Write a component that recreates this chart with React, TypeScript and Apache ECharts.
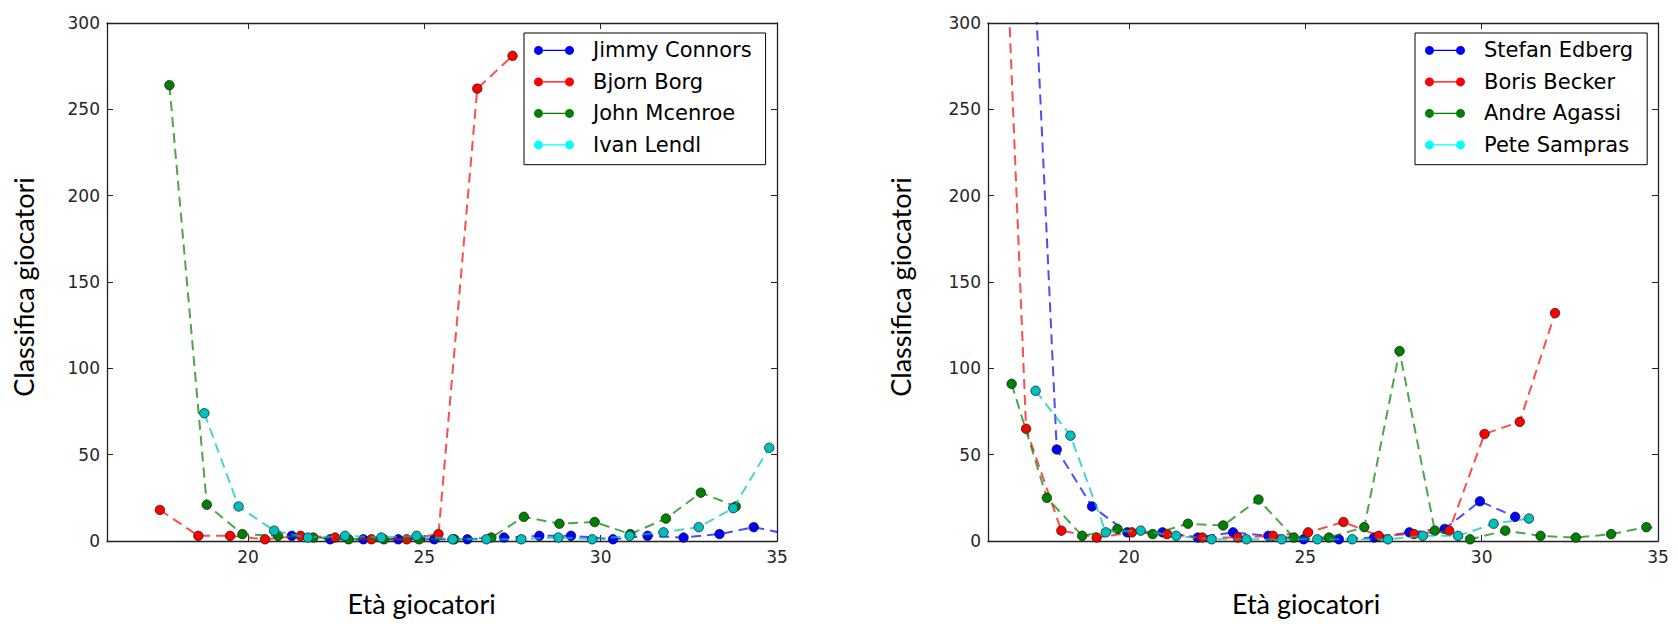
import React, { useEffect, useRef } from "react";
import * as echarts from "echarts";

// ---------- Data (age in years, year-end ranking) ----------
const connorsAge = [21.24, 22.33, 23.27, 24.26, 25.28, 26.22, 27.26, 28.26, 29.16, 30.35, 31.33, 32.35, 33.37, 34.34, 35.3];
const connorsRank = [3, 1, 1, 1, 1, 1, 2, 3, 3, 1, 3, 2, 4, 8, 4];

const borgAge = [17.5, 18.59, 19.49, 20.48, 21.49, 22.47, 23.5, 24.5, 25.4, 26.5, 27.5];
const borgRank = [18, 3, 3, 1, 3, 2, 1, 1, 4, 262, 281];

const mcenroeAge = [17.77, 18.83, 19.84, 20.85, 21.85, 22.85, 23.85, 24.85, 25.85, 26.9, 27.82, 28.83, 29.83, 30.84, 31.85, 32.84, 33.83];
const mcenroeRank = [264, 21, 4, 3, 2, 1, 1, 1, 1, 2, 14, 10, 11, 4, 13, 28, 20];

const lendlAge = [18.76, 19.73, 20.74, 21.7, 22.75, 23.78, 24.78, 25.8, 26.76, 27.75, 28.8, 29.76, 30.82, 31.78, 32.78, 33.76, 34.78];
const lendlRank = [74, 20, 6, 2, 3, 2, 3, 1, 1, 1, 2, 1, 3, 5, 8, 19, 54];

const edbergAge = [16.95, 17.95, 18.95, 19.95, 20.95, 21.95, 22.95, 23.95, 24.95, 25.95, 26.95, 27.95, 28.95, 29.95, 30.95];
const edbergRank = [490, 53, 20, 5, 5, 2, 5, 3, 1, 1, 2, 5, 7, 23, 14];

const beckerAge = [16.08, 17.08, 18.08, 19.08, 20.08, 21.08, 22.08, 23.08, 24.08, 25.08, 26.08, 27.08, 28.08, 29.08, 30.08, 31.08, 32.08];
const beckerRank = [566, 65, 6, 2, 5, 4, 2, 2, 3, 5, 11, 3, 4, 6, 62, 69, 132];

const agassiAge = [16.67, 17.67, 18.67, 19.67, 20.67, 21.67, 22.67, 23.67, 24.67, 25.67, 26.67, 27.67, 28.67, 29.67, 30.67, 31.67, 32.67, 33.67, 34.67, 35.67];
const agassiRank = [91, 25, 3, 7, 4, 10, 9, 24, 2, 2, 8, 110, 6, 1, 6, 3, 2, 4, 8, 7];

const samprasAge = [17.35, 18.34, 19.34, 20.33, 21.34, 22.34, 23.33, 24.33, 25.34, 26.33, 27.34, 28.33, 29.33, 30.34, 31.34];
const samprasRank = [87, 61, 5, 6, 3, 1, 1, 1, 1, 1, 1, 3, 3, 10, 13];

const xTicks = [20, 25, 30, 35];
const xMin = 16;
const xMax = 35;
const yMin = 0;
const yMax = 300;
const yStep = 50;

const xTitle = "Età giocatori";
const yTitle = "Classifica giocatori";

// ---------- Styling ----------
const TICK_FONT = "DejaVu Sans";
const TITLE_FONT = "Lato";
const AXIS_COLOR = "#222";

const legendIcon =
  "path://M0,5a4.5,4.5 0 1,0 9,0a4.5,4.5 0 1,0 -9,0z M31,5a4.5,4.5 0 1,0 9,0a4.5,4.5 0 1,0 -9,0z M9,4.3h22v1.4h-22z";

type S = { name: string; ages: number[]; ranks: number[]; color: string; legendColor: string };

const leftSeries: S[] = [
  { name: "Jimmy Connors", ages: connorsAge, ranks: connorsRank, color: "#0000ff", legendColor: "#0000ff" },
  { name: "Bjorn Borg", ages: borgAge, ranks: borgRank, color: "#ff0000", legendColor: "#ff0000" },
  { name: "John Mcenroe", ages: mcenroeAge, ranks: mcenroeRank, color: "#008000", legendColor: "#008000" },
  { name: "Ivan Lendl", ages: lendlAge, ranks: lendlRank, color: "#00bfbf", legendColor: "#00ffff" },
];
const rightSeries: S[] = [
  { name: "Stefan Edberg", ages: edbergAge, ranks: edbergRank, color: "#0000ff", legendColor: "#0000ff" },
  { name: "Boris Becker", ages: beckerAge, ranks: beckerRank, color: "#ff0000", legendColor: "#ff0000" },
  { name: "Andre Agassi", ages: agassiAge, ranks: agassiRank, color: "#008000", legendColor: "#008000" },
  { name: "Pete Sampras", ages: samprasAge, ranks: samprasRank, color: "#00bfbf", legendColor: "#00ffff" },
];

function buildSeries(list: S[], idx: number) {
  return list.map((s, i) => ({
    name: s.name,
    type: "line",
    xAxisIndex: idx,
    yAxisIndex: idx,
    data: s.ages.map((a, k) => [a, s.ranks[k]]),
    symbol: "circle",
    symbolSize: 9.5,
    showSymbol: true,
    clip: true,
    z: 2 + i,
    lineStyle: { color: s.color, width: 2, type: [10, 6], opacity: 0.7 },
    itemStyle: { color: s.color, borderColor: "#111", borderWidth: 0.7 },
    emphasis: { disabled: true },
  }));
}

function buildLegend(list: S[], left: number) {
  return {
    orient: "vertical",
    left,
    top: 33,
    padding: [6.4, 14, 8.8, 10],
    backgroundColor: "#fff",
    borderColor: "#000",
    borderWidth: 1,
    borderRadius: 0,
    itemWidth: 40,
    itemHeight: 9,
    itemGap: 9.5,
    selectedMode: false,
    icon: legendIcon,
    itemStyle: { borderWidth: 0 },
    textStyle: {
      fontFamily: TICK_FONT,
      fontSize: 21,
      color: "#000",
      lineHeight: 22,
      padding: [0, 0, 0, 14],
    },
    data: list.map((s) => ({ name: s.name, icon: legendIcon, itemStyle: { color: s.legendColor, borderWidth: 0 } })),
  };
}

function xAxisFor(gridIndex: number, position: string, labels: boolean) {
  return {
    type: "value",
    gridIndex,
    position,
    min: xMin,
    max: xMax,
    axisLine: { show: true, onZero: false, lineStyle: { color: AXIS_COLOR, width: 1.3 } },
    axisTick: { show: true, inside: true, length: 6, customValues: xTicks, lineStyle: { color: AXIS_COLOR, width: 1 } },
    axisLabel: {
      show: labels,
      customValues: xTicks,
      margin: 7,
      fontFamily: TICK_FONT,
      fontSize: 17,
      color: "#262626",
    },
    splitLine: { show: false },
  };
}

function yAxisFor(gridIndex: number, position: string, labels: boolean) {
  return {
    type: "value",
    gridIndex,
    position,
    min: yMin,
    max: yMax,
    interval: yStep,
    axisLine: { show: true, onZero: false, lineStyle: { color: AXIS_COLOR, width: 1.3 } },
    axisTick: { show: true, inside: true, length: 6, lineStyle: { color: AXIS_COLOR, width: 1 } },
    axisLabel: {
      show: labels,
      margin: 7,
      fontFamily: TICK_FONT,
      fontSize: 17,
      color: "#262626",
    },
    splitLine: { show: false },
  };
}

function titleText(text: string, x: number, y: number, rotation = 0) {
  return {
    type: "text",
    x,
    y,
    rotation,
    silent: true,
    style: {
      text,
      fontFamily: TITLE_FONT,
      fontSize: 27,
      fill: "#000",
      align: "center",
      verticalAlign: "middle",
    },
  };
}

export default function App() {
  const ref = useRef<HTMLDivElement>(null);

  useEffect(() => {
    if (!ref.current) return;
    const chart = echarts.init(ref.current, null, { renderer: "svg" });
    const option: any = {
      animation: false,
      backgroundColor: "#fff",
      grid: [
        { left: 107, top: 23, width: 670, height: 518, containLabel: false },
        { left: 988, top: 23, width: 670, height: 518, containLabel: false },
      ],
      xAxis: [
        xAxisFor(0, "bottom", true),
        xAxisFor(1, "bottom", true),
        xAxisFor(0, "top", false),
        xAxisFor(1, "top", false),
      ],
      yAxis: [
        yAxisFor(0, "left", true),
        yAxisFor(1, "left", true),
        yAxisFor(0, "right", false),
        yAxisFor(1, "right", false),
      ],
      legend: [buildLegend(leftSeries, 524), buildLegend(rightSeries, 1415)],
      series: [...buildSeries(leftSeries, 0), ...buildSeries(rightSeries, 1)],
      graphic: [
        titleText(xTitle, 421.6, 603),
        titleText(xTitle, 1306, 603),
        titleText(yTitle, 23, 287, Math.PI / 2),
        titleText(yTitle, 900, 287, Math.PI / 2),
      ],
    };
    chart.setOption(option);
    return () => chart.dispose();
  }, []);

  return (
    <div
      ref={ref}
      style={{ position: "fixed", left: 0, top: 0, width: 1678, height: 624, background: "#fff" }}
    />
  );
}
